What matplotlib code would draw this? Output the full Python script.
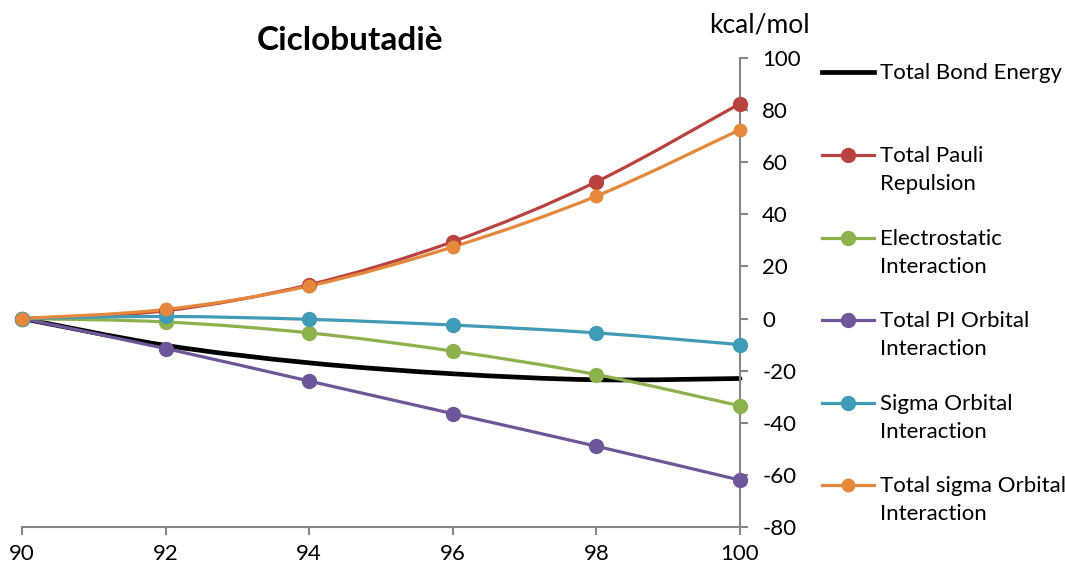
import matplotlib
matplotlib.use("Agg")
import numpy as np
import matplotlib.pyplot as plt
from matplotlib.path import Path
from matplotlib.patches import PathPatch
from matplotlib.lines import Line2D

plt.rcParams['font.family'] = ['Lato', 'DejaVu Sans']
plt.rcParams['axes.unicode_minus'] = False

# data
angles = [90, 92, 94, 96, 98, 100]
bond_energy = [0, -10.3, -17.0, -21.2, -23.5, -23.0]
pauli = [0, 3.0, 13.0, 29.5, 52.5, 82.5]
electrostatic = [0, -1.3, -5.5, -12.5, -21.5, -33.5]
pi_orbital = [0, -11.5, -24.0, -36.5, -49.0, -62.0]
sigma_orbital = [0, 0.8, -0.3, -2.5, -5.5, -10.0]
total_sigma = [0, 3.5, 12.5, 27.5, 47.0, 72.5]

series = [
    ("Total Bond Energy", bond_energy, "#000000", False),
    ("Total Pauli\nRepulsion", pauli, "#B9423F", True),
    ("Electrostatic\nInteraction", electrostatic, "#8DB14C", True),
    ("Total PI Orbital\nInteraction", pi_orbital, "#6F5599", True),
    ("Sigma Orbital\nInteraction", sigma_orbital, "#3F9BB6", True),
    ("Total sigma Orbital\nInteraction", total_sigma, "#E5883B", True),
]

GRAY = "#868686"


def smooth_path(x, y):
    # excel-like smoothed line: cubic bezier through the points
    x = np.asarray(x, float)
    y = np.asarray(y, float)
    pts = np.column_stack([x, y])
    verts = [pts[0]]
    codes = [Path.MOVETO]
    n = len(pts)
    for i in range(n - 1):
        p0 = pts[max(i - 1, 0)]
        p1 = pts[i]
        p2 = pts[i + 1]
        p3 = pts[min(i + 2, n - 1)]
        c1 = p1 + (p2 - p0) / 6.0
        c2 = p2 - (p3 - p1) / 6.0
        verts += [c1, c2, p2]
        codes += [Path.CURVE4] * 3
    return Path(verts, codes)


fig = plt.figure(figsize=(10.65, 5.67), dpi=100)
ax = fig.add_axes([22 / 1065, 1 - 527 / 567, 718 / 1065, 469 / 567])

for label, vals, color, has_marker in series:
    lw = 3.4 if not has_marker else 2.3
    patch = PathPatch(smooth_path(angles, vals), facecolor="none",
                      edgecolor=color, lw=lw, clip_on=False,
                      capstyle="round", joinstyle="round")
    ax.add_patch(patch)
    if has_marker:
        ms = 9 if color == "#E5883B" else 10
        ax.plot(angles, vals, "o", color=color, ms=ms, clip_on=False, zorder=3)

ax.set_xlim(90, 100)
ax.set_ylim(-80, 100)
ax.set_xticks(angles)
ax.set_yticks(np.arange(-80, 101, 20))

ax.spines["top"].set_visible(False)
ax.spines["left"].set_visible(False)
ax.spines["right"].set_color(GRAY)
ax.spines["bottom"].set_color(GRAY)
ax.spines["right"].set_linewidth(1.5)
ax.spines["bottom"].set_linewidth(1.5)
ax.yaxis.tick_right()
ax.tick_params(axis="y", direction="out", length=6, width=1.5, color=GRAY,
               pad=10, labelsize=16)
ax.tick_params(axis="x", direction="out", length=6, width=1.5, color=GRAY,
               pad=6, labelsize=16)

fig.text(350 / 1065, 1 - 40 / 567, "Ciclobutadiè", ha="center", va="center",
         fontsize=24, fontweight="bold")
fig.text(759 / 1065, 1 - 25 / 567, "kcal/mol", ha="center", va="center",
         fontsize=19)

# legend drawn by hand so the handle sits on the first text line
leg_y = [72, 155, 238, 320, 403, 485]
for (label, vals, color, has_marker), yp in zip(series, leg_y):
    yf = 1 - yp / 567
    x0, x1 = 822 / 1065, 874 / 1065
    fig.add_artist(Line2D([x0, x1], [yf, yf], color=color,
                          lw=3.4 if not has_marker else 2.3,
                          transform=fig.transFigure))
    if has_marker:
        ms = 9 if color == "#E5883B" else 10
        fig.add_artist(Line2D([(x0 + x1) / 2], [yf], marker="o", color=color,
                              ms=ms, transform=fig.transFigure))
    fig.text(880 / 1065, yf + 9 / 567, label, ha="left", va="top",
             fontsize=16, linespacing=1.5)

fig.savefig("out.png", dpi=100)
